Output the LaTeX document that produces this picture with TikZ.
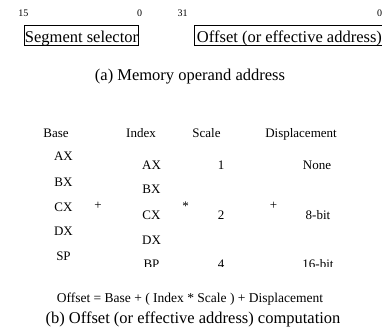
\documentclass[tikz,border=0pt]{standalone}
\usepackage{fontspec}
\setmainfont{Liberation Serif}
\usetikzlibrary{positioning}
\tikzset{
  bitnum/.style={font=\fontsize{10}{12}\selectfont,anchor=base,inner sep=0pt},
  fieldbox/.style={draw,line width=0.9pt,anchor=north west,inner xsep=0.5pt,inner ysep=0pt,
        text height=16.7pt,text depth=3.3pt,minimum height=20pt,font=\fontsize{16.5}{18}\selectfont},
  capt/.style={anchor=base,inner sep=0pt},
  colhead/.style={font=\fontsize{13}{15}\selectfont,anchor=base,inner sep=0pt},
  reg/.style={font=\fontsize{13}{15}\selectfont,anchor=base,inner sep=0pt},
  opsym/.style={font=\fontsize{13}{15}\selectfont,anchor=base,inner sep=0pt}
}
\begin{document}
\begin{tikzpicture}[x=1pt,y=-1pt]
  \useasboundingbox (0,0) rectangle (382,335);
  \clip (0,0) rectangle (382,335);

  %% (a) memory operand address
  \node[bitnum] (seghi) at (23.3,16.7) {15};
  \node[bitnum] (seglo) at (139.5,16.7) {0};
  \node[bitnum] (offhi) at (182.5,16.7) {31};
  \node[bitnum] (offlo) at (379.5,16.7) {0};
  \node[fieldbox,minimum width=114pt] (segsel) at (24,25) {Segment selector};
  \node[fieldbox,minimum width=190pt] (offset) at (194,25) {Offset (or effective address)};
  \node[capt,font=\fontsize{16.5}{18}\selectfont] (capa) at (190,80.5) {(a) Memory operand address};

  %% (b) column headers
  \node[colhead] (hbase)  at (56,137.5)  {Base};
  \node[colhead] (hindex) at (141,137.5) {Index};
  \node[colhead] (hscale) at (206.5,137.5) {Scale};
  \node[colhead] (hdisp)  at (301,137.5) {Displacement};

  \begin{scope}
    \clip (0,0) rectangle (382,266.8);
    %% base registers
    \node[reg] (bax) at (63.5,160)   {AX};
    \node[reg] (bbx) at (63.5,186)   {BX};
    \node[reg] (bcx) at (63.5,211)   {CX};
    \node[reg] (bdx) at (63.5,235)   {DX};
    \node[reg] (bsp) at (63.5,260.7) {SP};
    %% index registers
    \node[reg] (iax) at (151.5,169)   {AX};
    \node[reg] (ibx) at (151.5,193.5) {BX};
    \node[reg] (icx) at (151.5,219)   {CX};
    \node[reg] (idx) at (151.5,244)   {DX};
    \node[reg] (ibp) at (151.5,268.8) {BP};
    %% scale factors
    \node[reg] (sone)  at (221,169)   {1};
    \node[reg] (stwo)  at (221,219)   {2};
    \node[reg] (sfour) at (221,268.8) {4};
    %% displacement sizes
    \node[reg] (dnone) at (317,169)   {None};
    \node[reg] (deight) at (318,219)  {8-bit};
    \node[reg] (dsixteen) at (318,268.8) {16-bit};
  \end{scope}

  %% operators between columns
  \node[opsym] (plusa) at (98,209)    {+};
  \node[opsym] (times) at (185.5,210) {*};
  \node[opsym] (plusb) at (273.5,209) {+};

  %% formula and caption
  \node[capt,font=\fontsize{13.5}{16}\selectfont] (formula) at (190,302.5)
        {Offset = Base + ( Index * Scale ) + Displacement};
  \node[capt,font=\fontsize{16.5}{18}\selectfont] (captb) at (193,323.3)
        {(b) Offset (or effective address) computation};
\end{tikzpicture}
\end{document}
